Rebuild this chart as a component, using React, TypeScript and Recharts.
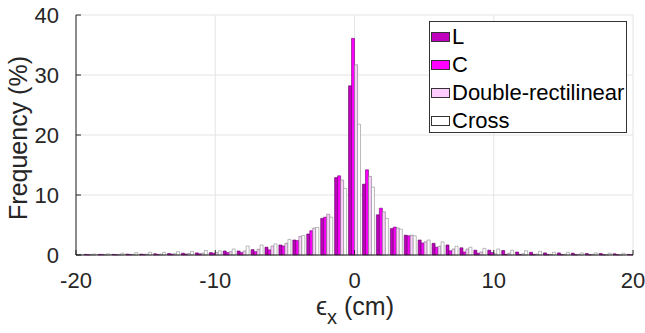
import { BarChart, Bar, XAxis, YAxis, CartesianGrid, Legend, Label } from "recharts";

// histogram bins (cm), one group of four bars per bin
const bins = [
  -20, -19, -18, -17, -16, -15, -14, -13, -12, -11, -10, -9, -8, -7, -6, -5, -4, -3, -2, -1, 0,
  1, 2, 3, 4, 5, 6, 7, 8, 9, 10, 11, 12, 13, 14, 15, 16, 17, 18, 19, 20,
];

// frequency (%) per series
const seriesL = [
  0.05, 0.1, 0.1, 0.1, 0.15, 0.15, 0.2, 0.25, 0.3, 0.35, 0.4, 0.67, 0.67, 0.9, 1.3, 1.67, 2.5, 3.5, 6.1, 12.9, 28.2,
  11.8, 6.7, 4.4, 3.3, 2.5, 1.95, 1.67, 1.2, 0.8, 0.8, 0.75, 0.5, 0.45, 0.35, 0.35, 0.3, 0.25, 0.25, 0.2, 0.1,
];
const seriesC = [
  0.05, 0.05, 0.1, 0.05, 0.1, 0.1, 0.1, 0.15, 0.15, 0.2, 0.3, 0.4, 0.4, 0.55, 0.85, 1.5, 2.4, 4.05, 6.3, 13.2, 36.1,
  14.2, 7.8, 4.65, 3.2, 2.0, 1.3, 0.7, 0.5, 0.3, 0.4, 0.1, 0.1, 0.1, 0.1, 0.1, 0.05, 0.05, 0.05, 0.05, 0.05,
];
const seriesDR = [
  0.05, 0.1, 0.1, 0.1, 0.1, 0.15, 0.15, 0.2, 0.25, 0.3, 0.4, 0.55, 0.67, 0.95, 1.5, 1.95, 3.1, 4.5, 6.8, 12.5, 31.7,
  13.1, 7.2, 4.5, 3.3, 2.2, 1.45, 1.0, 1.0, 0.5, 0.2, 0.3, 0.2, 0.15, 0.1, 0.1, 0.1, 0.1, 0.05, 0.05, 0.05,
];
const seriesCross = [
  0.1, 0.15, 0.2, 0.3, 0.4, 0.45, 0.45, 0.55, 0.6, 0.75, 0.7, 1.0, 1.5, 1.67, 1.85, 2.6, 3.25, 4.6, 6.3, 11.1, 21.8,
  11.3, 6.1, 4.3, 3.2, 2.5, 2.2, 1.45, 1.3, 1.1, 1.0, 0.8, 0.7, 0.6, 0.45, 0.45, 0.35, 0.35, 0.3, 0.3, 0.2,
];

const xTicks = [-20, -10, 0, 10, 20];
const yTicks = [0, 10, 20, 30, 40];

const series = [
  { key: "L", name: "L", fill: "#bf00bf", stroke: "#5a005a" },
  { key: "C", name: "C", fill: "#ff00ff", stroke: "#6a006a" },
  { key: "DR", name: "Double-rectilinear", fill: "#ffccff", stroke: "#777777" },
  { key: "Cross", name: "Cross", fill: "#ffffff", stroke: "#8c8c8c" },
];

const rows = bins.map((b, i) => ({
  bin: b,
  L: seriesL[i],
  C: seriesC[i],
  DR: seriesDR[i],
  Cross: seriesCross[i],
}));

const FONT = '"Liberation Sans", Arial, Helvetica, sans-serif';
const INK = "#262626";
const tickStyle = { fontSize: 22, fill: INK, fontFamily: FONT };

function LegendBox() {
  return (
    <div
      style={{
        width: 198,
        height: 112,
        border: "1px solid #333",
        background: "#fff",
        fontFamily: FONT,
        fontSize: 22,
        color: "#000",
        boxSizing: "border-box",
        paddingTop: 1,
      }}
    >
      {series.map((s) => (
        <div key={s.key} style={{ display: "flex", alignItems: "center", height: 28, lineHeight: "28px" }}>
          <span
            style={{
              display: "inline-block",
              width: 19,
              height: 10,
              marginLeft: 1,
              marginRight: 2,
              background: s.fill,
              border: "1px solid #333",
              boxSizing: "border-box",
            }}
          />
          <span>{s.name}</span>
        </div>
      ))}
    </div>
  );
}

export default function App() {
  return (
    <div style={{ position: "absolute", left: 0, top: 0, width: 645, height: 333, background: "#fff" }}>
      <BarChart
        width={645}
        height={333}
        data={rows}
        margin={{ top: 15, right: 12, bottom: 0, left: 0 }}
        barGap={0}
      >
        <CartesianGrid stroke="#e4e4e4" strokeWidth={1} />
        <XAxis
          dataKey="bin"
          type="number"
          domain={[-20, 20]}
          ticks={xTicks}
          allowDataOverflow
          height={78}
          tickSize={-5}
          tickMargin={22}
          tick={tickStyle}
          stroke={INK}
        >
          <Label
            content={() => (
              <text x={355} y={315} textAnchor="middle" fill={INK} fontFamily={FONT} fontSize={25}>
                <tspan>ϵ</tspan>
                <tspan dy={9} fontSize={20}>x</tspan>
                <tspan dy={-9}> (cm)</tspan>
              </text>
            )}
          />
        </XAxis>
        <XAxis
          xAxisId="top"
          dataKey="bin"
          type="number"
          orientation="top"
          domain={[-20, 20]}
          ticks={xTicks}
          allowDataOverflow
          height={0}
          tickSize={-5}
          tick={false}
          stroke={INK}
        />
        <YAxis
          domain={[0, 40]}
          ticks={yTicks}
          width={76}
          tickSize={-5}
          tickMargin={22}
          tick={tickStyle}
          stroke={INK}
        >
          <Label
            content={() => (
              <text
                x={27}
                y={138}
                transform="rotate(-90 27 138)"
                textAnchor="middle"
                fill={INK}
                fontFamily={FONT}
                fontSize={25}
              >
                Frequency (%)
              </text>
            )}
          />
        </YAxis>
        <YAxis
          yAxisId="right"
          orientation="right"
          domain={[0, 40]}
          ticks={yTicks}
          width={0}
          tickSize={-5}
          tick={false}
          stroke={INK}
        />
        <Legend
          layout="vertical"
          align="center"
          verticalAlign="middle"
          content={() => <LegendBox />}
          wrapperStyle={{ left: 429, top: 21, width: 198 }}
        />
        {series.map((s) => (
          <Bar
            key={s.key}
            dataKey={s.key}
            name={s.name}
            fill={s.fill}
            stroke={s.stroke}
            strokeWidth={0.6}
            barSize={3}
            isAnimationActive={false}
          />
        ))}
      </BarChart>
    </div>
  );
}
